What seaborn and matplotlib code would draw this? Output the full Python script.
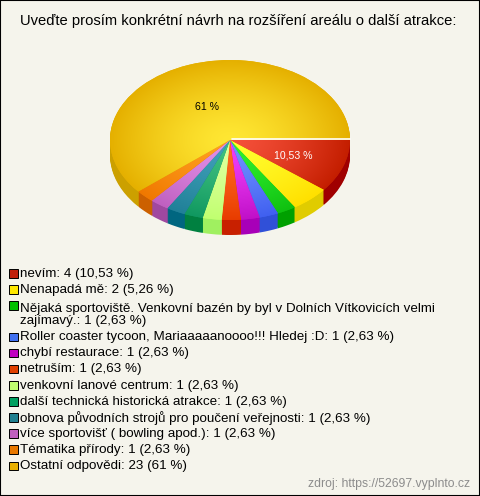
import numpy as np
import matplotlib
matplotlib.use("Agg")
import matplotlib.pyplot as plt
import seaborn as sb

title = "Uveďte prosím konkrétní návrh na rozšíření areálu o další atrakce:"
source = "zdroj: https://52697.vyplnto.cz"

labels = ["nevím", "Nenapadá mě",
          "Nějaká sportoviště. Venkovní bazén by byl v Dolních Vítkovicích velmi\nzajímavý.",
          "Roller coaster tycoon, Mariaaaaanoooo!!! Hledej :D", "chybí restaurace",
          "netruším", "venkovní lanové centrum", "další technická historická atrakce",
          "obnova původních strojů pro poučení veřejnosti", "více sportovišť ( bowling apod.)",
          "Tématika přírody", "Ostatní odpovědi"]
counts = [4, 2, 1, 1, 1, 1, 1, 1, 1, 1, 1, 23]
percents = ["10,53", "5,26", "2,63", "2,63", "2,63", "2,63", "2,63", "2,63", "2,63", "2,63", "2,63", "61"]
# slice sizes (%)
shares = [10.7, 5.2, 2.55, 2.55, 2.55, 2.55, 2.55, 2.55, 2.55, 2.55, 2.55, 61.15]

swatch_colors = ["#C0200A", "#FFE800", "#00C000", "#4070F0", "#C000C0", "#E04000",
                 "#C0FF70", "#00A060", "#208090", "#C060C0", "#E87800", "#E8B000"]
center_colors = ["#F5503A", "#FFFF30", "#30F030", "#7090FF", "#F040F8", "#FF6A20",
                 "#E0FFA0", "#40C080", "#40A0B8", "#E090E8", "#FFA020", "#FFE733"]
edge_colors = ["#C41E00", "#FFE000", "#10C010", "#4060F0", "#C010C8", "#E83C00",
               "#C0FF70", "#109860", "#208098", "#C060C0", "#F07800", "#E5B000"]
side_colors = ["#A00000", "#E0CC00", "#00A000", "#3050D8", "#A800B8", "#C82000",
               "#A0F060", "#008040", "#006680", "#A048A0", "#CC6000", "#CCA000"]

W, H = 480, 496
cx, cy, rx, ry, depth = 230, 140, 120, 80, 15

sb.set_theme(style="white")
plt.rcParams["font.family"] = ["Liberation Sans", "DejaVu Sans"]
bg = "#F5F4EC"

fig = plt.figure(figsize=(W / 100, H / 100), dpi=100, facecolor=bg)
ax = fig.add_axes([0, 0, 1, 1])

# side of the pie, stacked from the bottom up
for d in range(depth, 0, -1):
    ax.pie(shares, colors=side_colors, startangle=0, counterclock=False,
           center=(0, -d / ry), wedgeprops=dict(linewidth=0))

# top face: radial gradient clipped to each wedge
wedges, _ = ax.pie(shares, colors=edge_colors, startangle=0, counterclock=False,
                   wedgeprops=dict(linewidth=0))
xx, yy = np.meshgrid(np.linspace(-1.05, 1.05, 500), np.linspace(-1.05, 1.05, 500))
rr = np.sqrt(xx ** 2 + yy ** 2) ** 1.4
for w, c0, c1 in zip(wedges, center_colors, edge_colors):
    cmap = sb.blend_palette([c0, c1], as_cmap=True)
    im = ax.imshow(rr, extent=(-1.05, 1.05, -1.05, 1.05), origin="lower", cmap=cmap,
                   vmin=0, vmax=1, aspect="auto", zorder=3)
    im.set_clip_path(w)

# white seam above the first slice
ax.plot([0.02, 1], [0.008, 0.008], color="white", linewidth=1.2, zorder=4)

ax.set_aspect("auto")
ax.set_xlim(-cx / rx, (W - cx) / rx)
ax.set_ylim((cy - H) / ry, cy / ry)
ax.axis("off")


def px(x, y):
    return x / W, 1 - y / H


fig.text(*px(238, 21.5), title, ha="center", va="center", fontsize=10.6, color="black")
fig.text(*px(207, 107), "61 %", ha="center", va="center", fontsize=7.6, color="black")
fig.text(*px(293, 156), percents[0] + " %", ha="center", va="center", fontsize=7.6, color="white")

y = 273.5
for lab, n, pct, col in zip(labels, counts, percents, swatch_colors):
    lines = lab.count("\n") + 1
    fig.patches.append(plt.Rectangle(px(9, y + 4), 8.5 / W, 8.5 / H, transform=fig.transFigure,
                                     facecolor=col, edgecolor="black", linewidth=0.7))
    text_y = y if lines == 1 else y + 9.5
    fig.text(*px(20, text_y), "%s: %d (%s %%)" % (lab, n, pct), ha="left", va="center",
             fontsize=9.65, color="black", linespacing=1.0)
    y += 16.1 if lines == 1 else 31.5

fig.text(*px(470, 484.5), source, ha="right", va="center", fontsize=8.8, color="#8C8C8C")
fig.patches.append(plt.Rectangle((0, 0), 1, 1, transform=fig.transFigure, fill=False,
                                 edgecolor="black", linewidth=1.5))

fig.savefig("out.png", dpi=100, facecolor=bg)
